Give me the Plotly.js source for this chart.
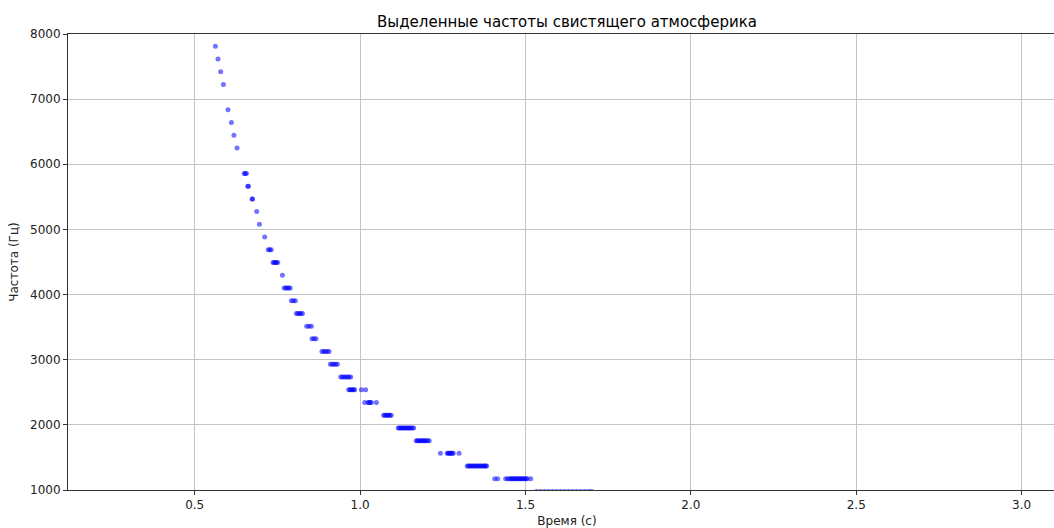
<!DOCTYPE html>
<html>
<head>
<meta charset="utf-8">
<script src="https://cdn.plot.ly/plotly-3.0.1.min.js"></script>
<style>
  html, body { margin: 0; padding: 0; overflow: hidden; background: #fff; }
  #chart { width: 1066px; height: 528px; }
</style>
</head>
<body>
<div id="chart"></div>
<script>
// Frequency levels (Hz) and the times (s) at which each level was detected
const freqLevels = [
  7812.5, 7617.2, 7421.9, 7226.6, 6835.9, 6640.6, 6445.3, 6250.0,
  5859.4, 5664.1, 5468.8, 5273.4, 5078.1, 4882.8, 4687.5, 4492.2,
  4296.9, 4101.6, 3906.3, 3710.9, 3515.6, 3320.3, 3125.0, 2929.7,
  2734.4, 2539.1, 2343.8, 2148.4, 1953.1, 1757.8, 1562.5, 1367.2,
  1171.9, 976.6
];
const timesPerLevel = [
  [0.5626],
  [0.5704],
  [0.5786],
  [0.5868],
  [0.6007],
  [0.6109],
  [0.6186],
  [0.6279],
  [0.6495, 0.6530, 0.6565],
  [0.6605, 0.6625],
  [0.6735, 0.6750],
  [0.6874],
  [0.6956],
  [0.7116],
  [0.7222, 0.7268, 0.7313],
  [0.7367, 0.7403, 0.7439, 0.7474, 0.7509],
  [0.7651],
  [0.7706, 0.7751, 0.7797, 0.7842, 0.7887],
  [0.7923, 0.7983, 0.8044],
  [0.8074, 0.8120, 0.8165, 0.8210, 0.8256],
  [0.8386, 0.8456, 0.8527],
  [0.8546, 0.8607, 0.8667],
  [0.8848, 0.8901, 0.8954, 0.9007, 0.9060],
  [0.9102, 0.9155, 0.9208, 0.9261, 0.9314],
  [0.9414, 0.9464, 0.9513, 0.9565, 0.9616, 0.9666, 0.9716],
  [0.9655, 0.9693, 0.9731, 0.9767, 0.9800, 0.9837, 1.0039, 1.0169],
  [1.0139, 1.0245, 1.0269, 1.0305, 1.0341, 1.0493],
  [1.0713, 1.0751, 1.0789, 1.0826, 1.0864, 1.0902, 1.0940],
  [1.1152, 1.1190, 1.1227, 1.1265, 1.1303, 1.1340, 1.1378, 1.1416, 1.1454, 1.1491, 1.1529, 1.1575, 1.1620],
  [1.1696, 1.1733, 1.1771, 1.1809, 1.1847, 1.1885, 1.1923, 1.1960, 1.1998, 1.2043, 1.2089],
  [1.2428, 1.2633, 1.2664, 1.2694, 1.2724, 1.2754, 1.2785, 1.2815, 1.2992],
  [1.3238, 1.3276, 1.3314, 1.3352, 1.3390, 1.3427, 1.3465, 1.3503, 1.3541, 1.3578, 1.3616, 1.3654, 1.3692, 1.3730, 1.3767, 1.3797, 1.3827],
  [1.4069, 1.4160, 1.4401, 1.4462, 1.4522, 1.4560, 1.4598, 1.4636, 1.4674, 1.4711, 1.4749, 1.4787, 1.4825, 1.4862, 1.4900, 1.4938, 1.4976, 1.5014, 1.5052, 1.5157],
  [1.5339, 1.5459, 1.5580, 1.5701, 1.5822, 1.5943, 1.6064, 1.6185, 1.6306, 1.6427, 1.6548, 1.6669, 1.6790, 1.6911, 1.7001]
];
const xTickVals = [0.5, 1.0, 1.5, 2.0, 2.5, 3.0];
const xTickText = ['0.5', '1.0', '1.5', '2.0', '2.5', '3.0'];
const yTickVals = [1000, 2000, 3000, 4000, 5000, 6000, 7000, 8000];
const yTickText = ['1000', '2000', '3000', '4000', '5000', '6000', '7000', '8000'];
const titleText = 'Выделенные частоты свистящего атмосферика';
const xLabel = 'Время (с)';
const yLabel = 'Частота (Гц)';

const xs = [], ys = [];
timesPerLevel.forEach((ts, i) => ts.forEach(t => { xs.push(t); ys.push(freqLevels[i]); }));

const font = 'DejaVu Sans, sans-serif';
const trace = {
  type: 'scatter', mode: 'markers', x: xs, y: ys,
  marker: { color: 'blue', size: 5, opacity: 0.55, line: { width: 0 } },
  cliponaxis: true, hoverinfo: 'skip'
};
const layout = {
  width: 1066, height: 528,
  margin: { l: 68, r: 0, t: 34, b: 38, pad: 0 },
  paper_bgcolor: '#fff', plot_bgcolor: '#fff',
  showlegend: false,
  font: { family: font, size: 12, color: '#000' },
  title: { text: titleText, x: 0.5, xref: 'paper', xanchor: 'center',
           y: 1 - 22 / 528, yref: 'container', yanchor: 'middle',
           font: { family: font, size: 15, color: '#000' } },
  xaxis: {
    range: [0.117, 3.134], tickvals: xTickVals, ticktext: xTickText,
    showgrid: true, gridcolor: '#c4c4c4', gridwidth: 1,
    zeroline: false, showline: true, linecolor: '#333', linewidth: 1, mirror: true,
    ticks: 'outside', ticklen: 4, tickcolor: '#333', tickwidth: 1,
    tickfont: { family: font, size: 12, color: '#222' },
    title: { text: xLabel, standoff: 6, font: { family: font, size: 12, color: '#222' } }
  },
  yaxis: {
    range: [1000, 8000], tickvals: yTickVals, ticktext: yTickText,
    showgrid: true, gridcolor: '#c4c4c4', gridwidth: 1,
    zeroline: false, showline: true, linecolor: '#333', linewidth: 1, mirror: false,
    ticks: 'outside', ticklen: 4, tickcolor: '#333', tickwidth: 1,
    tickfont: { family: font, size: 12, color: '#222' },
    title: { text: yLabel, standoff: 8, font: { family: font, size: 12, color: '#222' } }
  }
};
Plotly.newPlot('chart', [trace], layout, { staticPlot: true, displayModeBar: false });
</script>
</body>
</html>
